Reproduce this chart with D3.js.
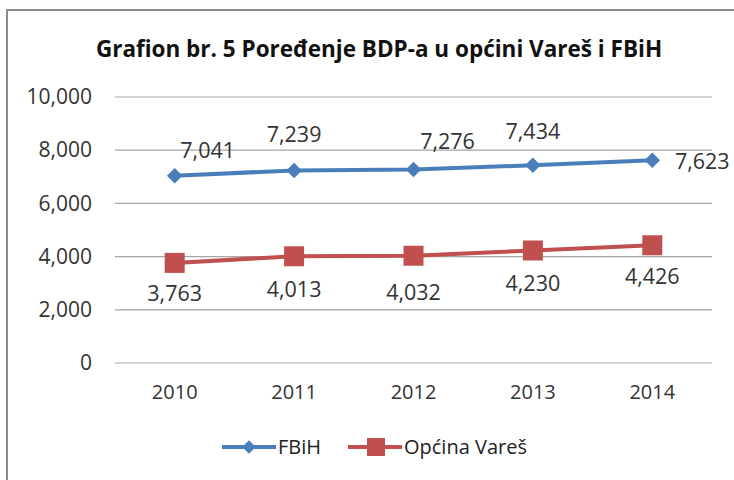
<!DOCTYPE html>
<html>
<head>
<meta charset="utf-8">
<script src="https://cdn.jsdelivr.net/npm/d3@7"></script>
<style>
  body { margin: 0; background: #fff; }
  svg { display: block; font-family: "Open Sans", "Liberation Sans", sans-serif; }
  .axis text { fill: #333; font-family: "Open Sans", sans-serif; }
  .y-axis text { font-size: 21px; }
  .x-axis text { font-size: 20px; }
</style>
</head>
<body>
<div id="chart"></div>
<script>
// Data________________________________________
const years = ['2010', '2011', '2012', '2013', '2014'];
const fbihValues = [7041, 7239, 7276, 7434, 7623];
const varesValues = [3763, 4013, 4032, 4230, 4426];
const yTicks = [0, 2000, 4000, 6000, 8000, 10000];
const seriesNames = ['FBiH', 'Općina Vareš'];

const width = 734, height = 480;
const colors = ['#4a7ebb', '#c0504d'];

const svg = d3.select('#chart').append('svg')
    .attr('width', width)
    .attr('height', height);

// frame
svg.append('rect')
    .attr('x', 7).attr('y', 10)
    .attr('width', 740).attr('height', 480)
    .attr('fill', 'none')
    .attr('stroke', '#8c8c8c')
    .attr('stroke-width', 2);

svg.append('text')
    .attr('x', 379).attr('y', 57)
    .attr('text-anchor', 'middle')
    .attr('font-size', 22.5)
    .attr('font-weight', 'bold')
    .attr('fill', '#111')
    .text('Grafion br. 5 Poređenje BDP-a u općini Vareš i FBiH');

// Scales__________________________________
const xScale = d3.scaleBand().domain(years).range([115, 712]);
const yScale = d3.scaleLinear().domain([0, 10000]).range([363, 97]);

// grid
svg.append('g')
    .selectAll('line')
    .data(yTicks)
    .enter()
    .append('line')
    .attr('x1', 115).attr('x2', 712)
    .attr('y1', d => yScale(d)).attr('y2', d => yScale(d))
    .attr('stroke', '#a6a6a6')
    .attr('stroke-width', 1.2);

const yAxis = d3.axisLeft(yScale).tickValues(yTicks).tickFormat(d3.format(',')).tickSize(0).tickPadding(0);
svg.append('g')
    .attr('class', 'axis y-axis')
    .attr('transform', 'translate(92,0)')
    .call(yAxis)
    .call(g => g.select('.domain').remove());

const xAxis = d3.axisBottom(xScale).tickSize(0).tickPadding(0);
svg.append('g')
    .attr('class', 'axis x-axis')
    .attr('transform', 'translate(0,385)')
    .call(xAxis)
    .call(g => g.select('.domain').remove());

const cx = d => xScale(d) + xScale.bandwidth() / 2;

// Lines________________________________
const line = d3.line()
    .x((d, i) => cx(years[i]))
    .y(d => yScale(d));

[fbihValues, varesValues].forEach((vals, k) => {
    svg.append('path')
        .datum(vals)
        .attr('d', line)
        .attr('fill', 'none')
        .attr('stroke', colors[k])
        .attr('stroke-width', 4);
});

const diamond = d3.symbol().type(d3.symbolSquare).size(120);
svg.append('g').selectAll('path')
    .data(fbihValues)
    .enter()
    .append('path')
    .attr('d', diamond)
    .attr('transform', (d, i) => `translate(${cx(years[i])},${yScale(d)}) rotate(45)`)
    .attr('fill', colors[0]);

svg.append('g').selectAll('rect')
    .data(varesValues)
    .enter()
    .append('rect')
    .attr('x', (d, i) => cx(years[i]) - 10)
    .attr('y', d => yScale(d) - 10)
    .attr('width', 20).attr('height', 20)
    .attr('fill', colors[1]);

// Data labels (manually nudged like in the original)
const fbihLabelShift = [[33, -18], [0, -28], [34, -20], [0, -26], [50, 9]];
const varesLabelShift = [[0, 38], [0, 41], [0, 44], [0, 41], [0, 39]];
const fmt = d3.format(',');

svg.append('g').selectAll('text')
    .data(fbihValues)
    .enter()
    .append('text')
    .attr('x', (d, i) => cx(years[i]) + fbihLabelShift[i][0])
    .attr('y', (d, i) => yScale(d) + fbihLabelShift[i][1])
    .attr('text-anchor', 'middle')
    .attr('font-size', 21.5)
    .attr('fill', '#333')
    .text(d => fmt(d));

svg.append('g').selectAll('text')
    .data(varesValues)
    .enter()
    .append('text')
    .attr('x', (d, i) => cx(years[i]) + varesLabelShift[i][0])
    .attr('y', (d, i) => yScale(d) + varesLabelShift[i][1])
    .attr('text-anchor', 'middle')
    .attr('font-size', 21.5)
    .attr('fill', '#333')
    .text(d => fmt(d));

// Legend___________________________________
const legendX = [222, 348];
const legend = svg.append('g').attr('transform', 'translate(0,447)');
seriesNames.forEach((name, k) => {
    const g = legend.append('g').attr('transform', `translate(${legendX[k]},0)`);
    g.append('line').attr('x1', 0).attr('x2', 54).attr('stroke', colors[k]).attr('stroke-width', 4);
    if (k === 0) {
        g.append('path').attr('d', d3.symbol().type(d3.symbolSquare).size(90)())
            .attr('transform', 'translate(27,0) rotate(45)').attr('fill', colors[k]);
    } else {
        g.append('rect').attr('x', 19).attr('y', -9).attr('width', 18).attr('height', 18).attr('fill', colors[k]);
    }
    g.append('text').attr('x', 56).attr('y', 7)
        .attr('font-size', 20).attr('fill', '#222').text(name);
});
</script>
</body>
</html>
